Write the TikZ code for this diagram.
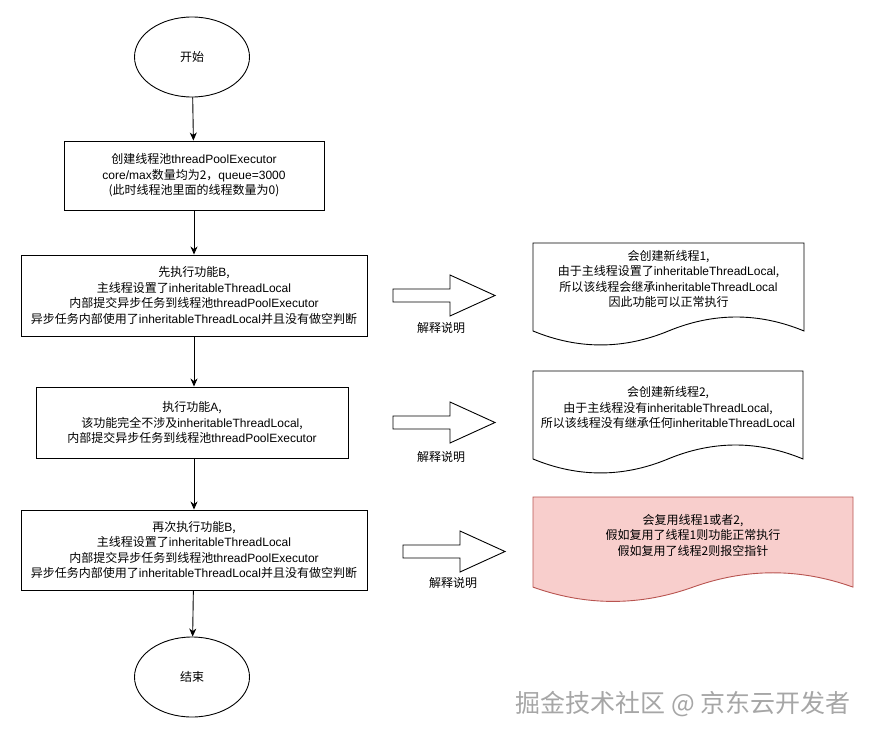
\documentclass[tikz,border=0pt]{standalone}
\usepackage{fontspec}
\setmainfont{Noto Sans CJK SC}
\newfontfamily\latf{Liberation Sans}
\newcommand\en[1]{{\latf #1}}
\usetikzlibrary{arrows.meta,shapes.geometric}
\definecolor{redfill}{HTML}{F8CECC}
\definecolor{redline}{HTML}{B85450}
\begin{document}
\begin{tikzpicture}[x=1pt,y=-1pt,
  txt/.style={font=\fontsize{12}{15.5}\selectfont, align=center, inner sep=0pt},
  term/.style={ellipse, draw, line width=0.9pt, fill=white, minimum width=115pt, minimum height=80pt, txt},
  proc/.style={draw, line width=0.9pt, fill=white, txt},
  flow/.style={draw, line width=0.9pt, -{Stealth[length=8pt,width=7pt,inset=2.5pt]}},
  blk/.style={draw, line width=0.9pt, fill=white, line join=miter},
  doc/.style={draw, line width=0.9pt, fill=white},
  lbl/.style={txt}
]
\useasboundingbox (0,0) rectangle (875,741);

% flow nodes
\node[term] (start) at (192,57) {开始};
\node[proc, minimum width=260pt, minimum height=69pt] (b1) at (194,175.5)
  {创建线程池\en{threadPoolExecutor}\\\en{core/max}数量均为2，\en{queue=3000}\\(此时线程池里面的线程数量为0)};
\node[proc, minimum width=346pt, minimum height=81pt] (b2) at (194,295.5)
  {先执行功能\en{B},\\主线程设置了\en{inheritableThreadLocal}\\内部提交异步任务到线程池\en{threadPoolExecutor}\\异步任务内部使用了\en{inheritableThreadLocal}并且没有做空判断};
\node[proc, minimum width=312pt, minimum height=71pt] (b3) at (192,422.5)
  {执行功能\en{A},\\该功能完全不涉及\en{inheritableThreadLocal},\\内部提交异步任务到线程池\en{threadPoolExecutor}};
\node[proc, minimum width=346pt, minimum height=80pt] (b4) at (194,550)
  {再次执行功能\en{B},\\主线程设置了\en{inheritableThreadLocal}\\内部提交异步任务到线程池\en{threadPoolExecutor}\\异步任务内部使用了\en{inheritableThreadLocal}并且没有做空判断};
\node[term] (stop) at (192,677) {结束};

\draw[flow] (start) -- (b1);
\draw[flow] (b1) -- (b2);
\draw[flow] (b2.south) -- (b2.south |- b3.north);
\draw[flow] (b3.south -| b4.north) -- (b4.north);
\draw[flow] (b4) -- (stop);

% block arrows
\draw[blk] (393,289) -- (450,289) -- (450,275) -- (495,295.5) -- (450,316) -- (450,302) -- (393,302) -- cycle;
\draw[blk] (393,416) -- (450,416) -- (450,402) -- (495,422.5) -- (450,443) -- (450,429) -- (393,429) -- cycle;
\draw[blk] (403,545) -- (460,545) -- (460,531) -- (505,551.5) -- (460,572) -- (460,558) -- (403,558) -- cycle;
\node[lbl] (l1) at (441,328) {解释说明};
\node[lbl] (l2) at (441,457) {解释说明};
\node[lbl] (l3) at (453,583) {解释说明};

% documents
\begin{scope}[shift={(533,243)}, x=271pt, y=-103.5pt]
\draw[doc] (0,0) -- (1,0) -- (1,.85) .. controls (5/6,.67) and (2/3,.67) .. (.5,.85) .. controls (1/3,1.03) and (1/6,1.03) .. (0,.85) -- cycle;
\end{scope}
\begin{scope}[shift={(533,371)}, x=270pt, y=-103.5pt]
\draw[doc] (0,0) -- (1,0) -- (1,.85) .. controls (5/6,.67) and (2/3,.67) .. (.5,.85) .. controls (1/3,1.03) and (1/6,1.03) .. (0,.85) -- cycle;
\end{scope}
\begin{scope}[shift={(533,497)}, x=320pt, y=-106pt]
\draw[doc, fill=redfill, draw=redline] (0,0) -- (1,0) -- (1,.85) .. controls (5/6,.67) and (2/3,.67) .. (.5,.85) .. controls (1/3,1.03) and (1/6,1.03) .. (0,.85) -- cycle;
\end{scope}
\node[txt] (d1) at (668.5,279)
  {会创建新线程1,\\由于主线程设置了\en{inheritableThreadLocal},\\所以该线程会继承\en{inheritableThreadLocal}\\因此功能可以正常执行};
\node[txt] (d2) at (668,407.5)
  {会创建新线程2,\\由于主线程没有\en{inheritableThreadLocal},\\所以该线程没有继承任何\en{inheritableThreadLocal}};
\node[txt] (d3) at (693,535)
  {会复用线程1或者2,\\假如复用了线程1则功能正常执行\\假如复用了线程2则报空指针};

% watermark
\node[inner sep=0pt, text=gray!70, font=\fontsize{25}{29}\selectfont] (wm) at (683,704) {掘金技术社区 @ 京东云开发者};
\end{tikzpicture}
\end{document}
